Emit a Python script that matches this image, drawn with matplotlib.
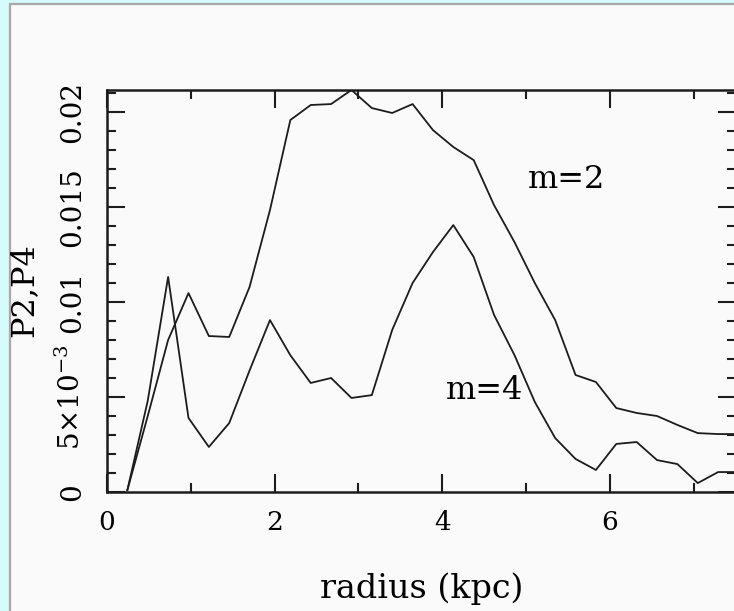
"""
Amplitude of the m=2 and m=4 Fourier components against galactocentric radius.
"""

import matplotlib

matplotlib.use("Agg")

import matplotlib.pyplot as plt
from matplotlib.patches import Rectangle
from matplotlib.ticker import MultipleLocator

# Radial bins (kpc) and the relative Fourier amplitudes in each bin.
radius = [0.243, 0.486, 0.729, 0.972, 1.215, 1.458, 1.701, 1.944, 2.187, 2.430,
          2.673, 2.916, 3.159, 3.402, 3.645, 3.888, 4.131, 4.374, 4.617, 4.860,
          5.103, 5.346, 5.589, 5.832, 6.075, 6.318, 6.561, 6.804, 7.047, 7.290,
          7.533]

p2 = [0.0001, 0.0040, 0.0080, 0.01047, 0.00821, 0.00816, 0.0108, 0.01484,
      0.01958, 0.02037, 0.02042, 0.02116, 0.02021, 0.01995, 0.02042, 0.01905,
      0.01816, 0.01747, 0.0151, 0.01316, 0.0110, 0.00905, 0.00616, 0.00579,
      0.00442, 0.00416, 0.0040, 0.00353, 0.0031, 0.00305, 0.00305]

p4 = [0.0001, 0.0048, 0.01132, 0.0039, 0.00237, 0.00363, 0.0064, 0.00905,
      0.0072, 0.00574, 0.0060, 0.00495, 0.0051, 0.00853, 0.0110, 0.01263,
      0.01405, 0.01237, 0.00932, 0.00721, 0.00474, 0.00284, 0.00174, 0.00116,
      0.00253, 0.00263, 0.00168, 0.00147, 0.00047, 0.00105, 0.00105]

y_ticks = [0, 0.005, 0.01, 0.015, 0.02]
y_tick_labels = ["0", r"$5{\times}10^{-3}$", "0.01", "0.015", "0.02"]
x_ticks = [0, 2, 4, 6]

plt.rcParams["font.family"] = "DejaVu Serif"
plt.rcParams["mathtext.fontset"] = "dejavuserif"

W, H = 734, 611
fig = plt.figure(figsize=(W / 100, H / 100), dpi=100, facecolor="#d5fbfc")

# page panel behind the plot
fig.patches.append(Rectangle((10 / W, -0.1), 1.2, (H - 4) / H + 0.1,
                             transform=fig.transFigure, facecolor="#fafafa",
                             edgecolor="#a9a9a9", linewidth=1.6, zorder=-10))

ax = fig.add_axes([107 / W, (H - 492) / H, 628.75 / W, 402 / H])
ax.set_facecolor("none")

line_kw = dict(color="#1c1c1c", linewidth=1.3, clip_on=True)
ax.plot(radius, p2, **line_kw)
ax.plot(radius, p4, **line_kw)

ax.text(5.48, 0.01647, "m=2", fontsize=23, ha="center", va="center")
ax.text(4.50, 0.00532, "m=4", fontsize=23, ha="center", va="center")

ax.set_xlim(0, 7.5)
ax.set_ylim(0, 0.02116)
ax.set_xticks(x_ticks)
ax.xaxis.set_minor_locator(MultipleLocator(1))
ax.set_yticks(y_ticks)
ax.set_yticklabels(y_tick_labels)
ax.yaxis.set_minor_locator(MultipleLocator(0.001))

ax.tick_params(which="both", direction="in", top=True, right=True,
               color="#1c1c1c", width=1.5)
ax.tick_params(which="major", length=13)
ax.tick_params(which="minor", length=6.5)
ax.tick_params(axis="x", pad=13, labelsize=19)
ax.tick_params(axis="y", pad=15, labelsize=20)
for label in ax.get_yticklabels():
    label.set_rotation(90)
    label.set_va("center")

for spine in ax.spines.values():
    spine.set_linewidth(1.8)
    spine.set_color("#1c1c1c")

ax.set_xlabel("radius (kpc)", fontsize=24, va="top")
ax.xaxis.set_label_coords(0.5, -0.2)
ax.set_ylabel("P2,P4", fontsize=23)
ax.yaxis.set_label_coords(-0.108, 0.5025)

fig.savefig("out.png", dpi=100, facecolor=fig.get_facecolor())
